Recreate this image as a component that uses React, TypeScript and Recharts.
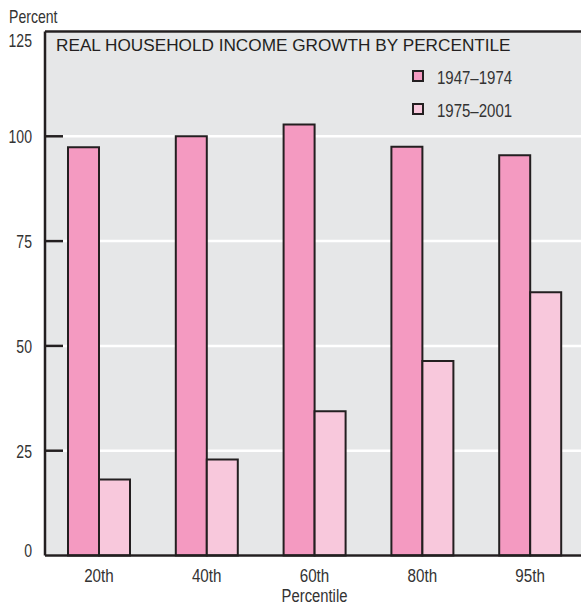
import React from 'react';
import { BarChart, Bar, XAxis, YAxis, CartesianGrid, ReferenceLine, Legend, Label } from 'recharts';

const categories = ['20th', '40th', '60th', '80th', '95th'];
const series1947to1974 = [97.4, 100.0, 102.8, 97.5, 95.5];
const series1975to2001 = [18.1, 22.9, 34.4, 46.4, 62.8];
const yTicks = [0, 25, 50, 75, 100, 125];
const seriesNames = ['1947–1974', '1975–2001'];

const data = categories.map((c, i) => ({ name: c, a: series1947to1974[i], b: series1975to2001[i] }));

const FONT = "'Liberation Sans', Arial, sans-serif";
const INK = '#231f20';
const TEXT = '#333333';
const DARK = '#f49ac1';
const LIGHT = '#f8c8dc';
const BG = '#e6e7e8';
const FS = 19;

const NText = ({ x, y, anchor = 'start', sx = 0.78, children }: any) => (
  <text
    transform={`translate(${x},${y}) scale(${sx},1)`}
    textAnchor={anchor}
    fontSize={FS}
    fontFamily={FONT}
    fill={TEXT}
  >
    {children}
  </text>
);

const YTick = (props: any) => {
  const { x, y, payload } = props;
  const v = payload.value;
  const dy = v === 125 ? 9 : v === 0 ? -5.5 : 0;
  return (
    <g>
      {v !== 0 && v !== 125 && (
        <line x1={x + 13} x2={x + 31} y1={y} y2={y} stroke={INK} strokeWidth={2.5} />
      )}
      <NText x={x} y={y + dy + 6.8} anchor="end" sx={0.74}>
        {v}
      </NText>
    </g>
  );
};

const XTick = (props: any) => {
  const { x, y, payload } = props;
  return (
    <NText x={x} y={y + 13.6} anchor="middle" sx={0.8}>
      {payload.value}
    </NText>
  );
};

const XLabel = (props: any) => {
  const vb = props.viewBox || {};
  const cx = (vb.x || 0) + (vb.width || 0) / 2;
  return (
    <NText x={cx} y={601.5} anchor="middle" sx={0.78}>
      Percentile
    </NText>
  );
};

const LegendContent = () => (
  <svg width={150} height={70} style={{ display: 'block' }}>
    {seriesNames.map((n, i) => (
      <g key={n}>
        <rect x={13} y={11 + i * 33} width={10} height={10} fill={i === 0 ? DARK : LIGHT} stroke={INK} strokeWidth={2} />
        <NText x={37} y={23.8 + i * 33} sx={0.79}>
          {n}
        </NText>
      </g>
    ))}
  </svg>
);

export default function App() {
  return (
    <div
      style={{
        position: 'absolute', left: 0, top: 0, width: 581, height: 605, overflow: 'hidden', background: '#fff',
      }}
    >
      <div
        style={{
          position: 'absolute', left: 9, top: 7, fontFamily: FONT, fontSize: FS, lineHeight: '19px', color: TEXT,
          whiteSpace: 'nowrap',
        }}
      >
        <span style={{ display: 'inline-block', transform: 'scaleX(0.74)', transformOrigin: 'left center' }}>Percent</span>
      </div>
      <BarChart
        width={600}
        height={605}
        data={data}
        margin={{ top: 31.5, right: 16, bottom: 19.5, left: 0 }}
        barCategoryGap={23}
        barGap={0}
      >
        <CartesianGrid vertical={false} stroke="#ffffff" strokeWidth={2.5} fill={BG} />
        <XAxis
          dataKey="name"
          tickLine={false}
          tickSize={6}
          tickMargin={7}
          height={30}
          axisLine={{ stroke: INK, strokeWidth: 2.5 }}
          tick={<XTick />}
        >
          <Label content={<XLabel />} position="bottom" />
        </XAxis>
        <YAxis
          type="number"
          domain={[0, 125]}
          ticks={yTicks}
          interval={0}
          width={45}
          tickLine={false}
          tickSize={6}
          tickMargin={7}
          axisLine={{ stroke: INK, strokeWidth: 2.5 }}
          tick={<YTick />}
        />
        <ReferenceLine y={125} stroke={INK} strokeWidth={2.5} />
        <Legend
          layout="vertical"
          align="center"
          verticalAlign="middle"
          content={<LegendContent />}
          wrapperStyle={{ position: 'absolute', top: 60, left: 400, width: 'auto', height: 'auto' }}
        />
        <Bar dataKey="a" name={seriesNames[0]} fill={DARK} stroke={INK} strokeWidth={2} isAnimationActive={false} />
        <Bar dataKey="b" name={seriesNames[1]} fill={LIGHT} stroke={INK} strokeWidth={2} isAnimationActive={false} />
      </BarChart>
      <div
        style={{
          position: 'absolute', left: 56, top: 37, fontFamily: FONT, fontSize: 17.2, lineHeight: '17px', color: INK,
          whiteSpace: 'nowrap',
        }}
      >
        REAL HOUSEHOLD INCOME GROWTH BY PERCENTILE
      </div>
    </div>
  );
}
